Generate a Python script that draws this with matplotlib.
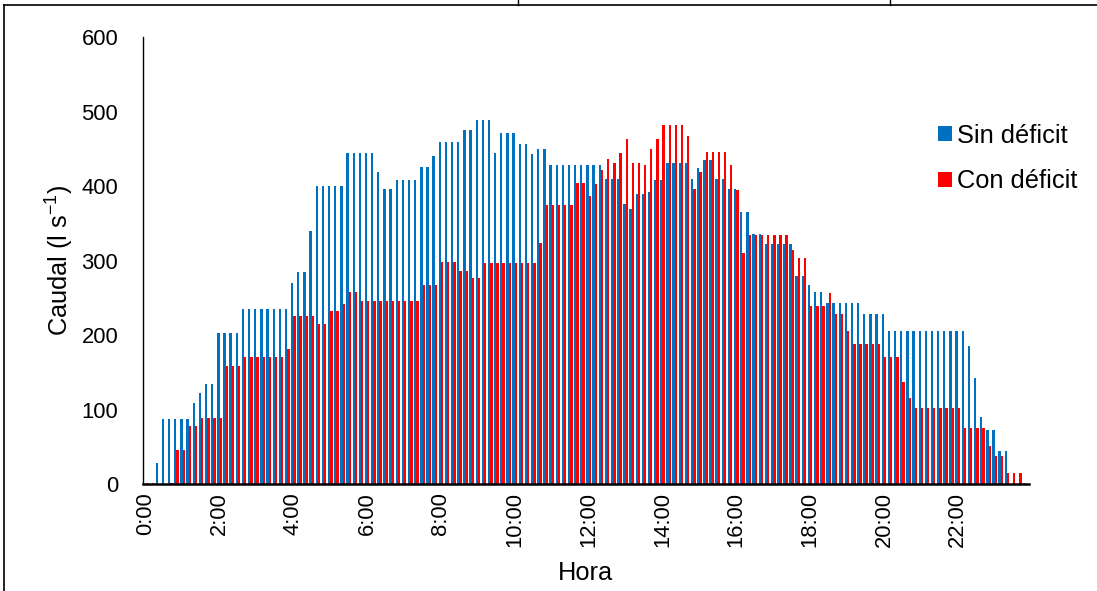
import matplotlib
matplotlib.use("Agg")
import matplotlib.pyplot as plt
from matplotlib.lines import Line2D
import numpy as np

plt.rcParams["font.family"] = ["Liberation Sans", "DejaVu Sans"]
plt.rcParams["mathtext.default"] = "regular"

# caudal cada 10 minutos, 0:00 a 23:50
sin_deficit = [
    0, 0, 28, 87, 87, 87, 87, 87, 109, 122, 135, 135,
    203, 203, 203, 203, 235, 235, 235, 235, 235, 235, 235, 235,
    270, 285, 285, 340, 401, 401, 401, 401, 401, 445, 445, 445,
    445, 445, 419, 396, 396, 409, 409, 409, 409, 426, 426, 441,
    459, 459, 459, 459, 476, 476, 489, 489, 489, 445, 472, 472,
    472, 457, 457, 443, 450, 450, 429, 429, 429, 429, 429, 429,
    429, 429, 429, 410, 410, 410, 376, 370, 390, 390, 392, 408,
    408, 432, 432, 432, 432, 410, 424, 435, 435, 410, 410, 397,
    397, 365, 365, 336, 336, 322, 322, 322, 322, 322, 280, 280,
    268, 258, 258, 243, 243, 243, 243, 243, 243, 228, 228, 228,
    228, 205, 205, 205, 205, 205, 205, 205, 205, 205, 205, 205,
    205, 205, 185, 143, 90, 73, 73, 45, 45, 0, 0, 1,
]
con_deficit = [
    1, 1, 0, 0, 1, 46, 46, 78, 78, 89, 89, 89,
    89, 159, 159, 159, 170, 170, 170, 170, 170, 170, 170, 182,
    226, 226, 226, 226, 215, 215, 233, 233, 242, 258, 258, 246,
    246, 246, 246, 246, 246, 246, 246, 246, 246, 268, 268, 268,
    298, 298, 298, 286, 286, 277, 277, 297, 297, 297, 297, 297,
    297, 297, 297, 297, 324, 375, 375, 375, 375, 375, 404, 404,
    387, 403, 422, 437, 432, 445, 463, 431, 431, 429, 450, 464,
    483, 483, 483, 483, 467, 396, 419, 446, 446, 446, 446, 428,
    395, 311, 334, 334, 334, 334, 334, 334, 334, 315, 304, 304,
    239, 239, 239, 257, 229, 229, 205, 188, 188, 188, 188, 188,
    171, 171, 171, 137, 116, 102, 102, 102, 102, 102, 102, 102,
    102, 75, 75, 75, 75, 51, 38, 38, 15, 15, 15, 0,
]
tick_pos = [0, 12, 24, 36, 48, 60, 72, 84, 96, 108, 120, 132]
tick_labels = ["0:00", "2:00", "4:00", "6:00", "8:00", "10:00",
               "12:00", "14:00", "16:00", "18:00", "20:00", "22:00"]

W, H = 1097, 591
fig = plt.figure(figsize=(W / 100, H / 100), dpi=100)
ax = fig.add_axes([142.6 / W, 1 - 484 / H, (1028.5 - 142.6) / W, (484 - 37.5) / H])

x = np.arange(len(sin_deficit))
bw = 0.38
ax.bar(x - bw / 2, sin_deficit, width=bw, color="#0070C0", label="Sin déficit")
ax.bar(x + bw / 2, con_deficit, width=bw, color="#FF0000", label="Con déficit")

ax.set_xlim(-0.5, len(sin_deficit) - 0.5)
ax.set_ylim(0, 600)
ax.set_yticks(range(0, 601, 100))
ax.set_xticks(tick_pos)
ax.set_xticklabels(tick_labels, rotation=90)
ax.tick_params(axis="y", length=0, pad=17.5, labelsize=15.8)
ax.tick_params(axis="x", length=0, pad=6, labelsize=15.8)

for s in ["top", "right"]:
    ax.spines[s].set_visible(False)
ax.spines["left"].set_linewidth(1.0)
ax.spines["bottom"].set_linewidth(1.8)

ax.set_ylabel("Caudal (l s$^{-1}$)", fontsize=18.3, labelpad=4)
ax.set_xlabel("Hora", fontsize=18.3, labelpad=10)

ax.legend(loc="center left", bbox_to_anchor=(938 / W, 1 - 158.5 / H),
          bbox_transform=fig.transFigure, frameon=False, fontsize=18.3,
          handlelength=0.55, handleheight=0.55, handletextpad=0.18,
          labelspacing=0.85, borderpad=0, borderaxespad=0)

# marco de la figura
fig.add_artist(Line2D([4 / W, 4 / W], [0, 1 - 4.5 / H], transform=fig.transFigure,
                      color="black", lw=1.2))
fig.add_artist(Line2D([4 / W, 1], [1 - 4.5 / H, 1 - 4.5 / H], transform=fig.transFigure,
                      color="black", lw=1.2))
for xl in [518, 890]:
    fig.add_artist(Line2D([xl / W, xl / W], [1 - 4.5 / H, 1], transform=fig.transFigure,
                          color="black", lw=1.0))

fig.savefig("out.png", dpi=100)
